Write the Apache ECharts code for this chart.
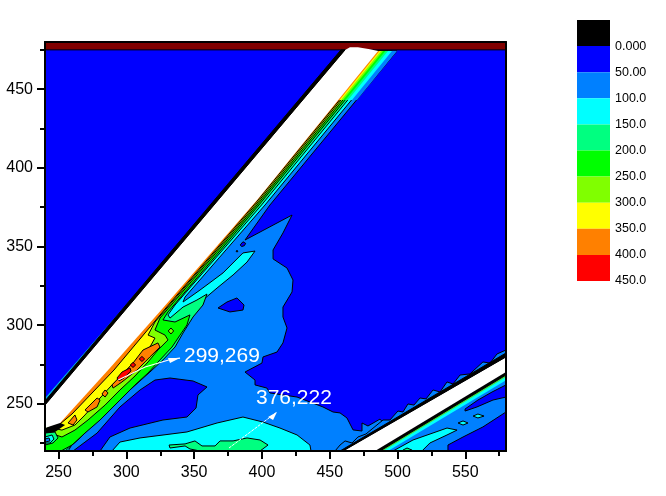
<!DOCTYPE html>
<html>
<head>
<meta charset="utf-8">
<title>contour</title>
<style>
    * { margin: 0; padding: 0; }
    body { background: #fff; }
    #main { width: 666px; height: 496px; }
</style>
<script src="https://cdn.jsdelivr.net/npm/echarts@6/dist/echarts.min.js"></script>
</head>
<body>
<div id="main"></div>
<script>
// axis ticks
const xTicks = [250, 300, 350, 400, 450, 500, 550];
const xMinor = [275, 325, 375, 425, 475, 525, 575];
const yTicks = [250, 300, 350, 400, 450];
const yMinor = [225, 275, 325, 375, 425, 475];

// colour scale
const levelLabels = ['0.000', '50.00', '100.0', '150.0', '200.0', '250.0', '300.0', '350.0', '400.0', '450.0'];
const levelValues = [0, 50, 100, 150, 200, 250, 300, 350, 400, 450];
const levelStarts = [-50, 0, 50, 100, 150, 200, 250, 300, 350, 400];
const levelColors = ['#000000', '#0000ff', '#0080ff', '#00ffff', '#00ff80', '#00ff00', '#80ff00', '#ffff00', '#ff8000', '#ff0000'];

// contours as [em, ex]
const frameAll = [[240,220],[580,220],[580,480],[240,480]];
const overRange = [[240,475],[580,475],[580,480],[240,480]];
const level50 = [[499.6,474.3],[405.9,376.4],[387.5,354.1],[422.2,370],[415.5,358.6],[408.2,347.8],[408.2,342.1],[418.5,336.3],[422.9,328.7],[422.2,321.1],[415.5,311.5],[415.5,305.2],[418.5,298.2],[415.5,288.7],[411.1,282.9],[400.8,279.8],[400,275.9],[387.5,270.2],[394.9,265.1],[394.9,262],[403.7,260],[405.9,256.9],[425.9,254.3],[445,248],[452.4,244.8],[457.6,244.2],[462.7,241],[467.2,233.4],[473.8,232.7],[473.8,237.8],[478.2,235.9],[487.1,240.3],[490.8,236.5],[459.8,220],[240,220],[240,249.2],[461.3,475]];
const level100 = [[495.9,474.3],[402.3,376.4],[343.3,317.9],[341.8,314.7],[354.3,322.3],[371.3,333.2],[386,345.9],[394.9,347.1],[389,340.1],[378.7,331.9],[366.9,323.6],[356.5,316],[345.5,302],[339.6,292.5],[332.2,284.2],[319.7,275.9],[306.4,266.4],[291.6,255.6],[276.9,242.9],[265.8,232.1],[257,220],[240,220],[240,249.2],[461.3,475]];
const level150 = [[493,474.3],[399.7,376.4],[335.9,312.8],[330.7,306.5],[332.2,304.5],[341.8,311.5],[352.1,316],[359.5,319.8],[356.5,312.8],[349.2,305.2],[341.8,295],[335.9,286.1],[327,277.9],[317.4,270.2],[302.7,258.8],[287.9,246.1],[273.2,234.6],[264.3,227],[254.8,220],[240,220],[240,249.2],[461.3,475]];
const level200 = [[491.1,474.3],[397.8,376.4],[330.7,308.4],[327,303.3],[335.9,302],[346.9,306.5],[344.7,300.1],[339.6,293.7],[333.7,286.1],[324.8,277.9],[316,269.6],[306.4,262],[295.3,252.4],[280.6,239.7],[269.5,231.4],[259.9,223.8],[251.8,220],[240,220],[240,249.2],[461.3,475]];
const level250 = [[489.3,474.3],[396.4,376.4],[324.8,304.5],[321.1,296.9],[328.5,293.7],[330.7,290.6],[323.3,284.2],[316,276.6],[306.4,267.7],[295.3,258.8],[284.3,249.2],[271.7,239.7],[262.1,233.3],[252.5,228.9],[243.7,231.4],[240,232.1],[240,249.2],[461.3,475]];
const level300 = [[487.8,474.3],[395.2,376.4],[321.1,302],[316,293.7],[321.1,291.8],[317.4,286.1],[310.1,279.1],[301.2,271.5],[289.4,262],[280.6,253.7],[269.5,242.9],[262.1,236.5],[252.5,233.3],[245.2,234.6],[251.1,239.7],[240,249.2],[461.3,475]];
const level350Edge = [[486.7,474.3],[394.1,376.4],[329.2,310.9],[290.9,271.5],[259.9,243.5],[251.1,237.2],[240,249.2],[461.3,475]];
const level350Main = [[289.4,262],[304.9,275.9],[312.3,284.2],[323.3,288.7],[324.8,286.1],[317.4,279.8],[307.9,271.5],[296.8,263.9],[290.2,260]];
const level350Low = [[269.5,246.1],[278.4,253.7],[280.6,252.4],[278.4,248],[271.7,244.8]];
const level350Tip = [[257,237.8],[262.1,242.9],[263.6,239.7],[260.7,236.5]];
const level350Isle = [[282,256.2],[284.3,258.8],[286.5,256.9],[284.3,254.3]];
const level400Main = [[293.1,266.4],[296.8,270.2],[302.7,272.8],[303.4,270.9],[298.3,266.4],[294.6,264.5]];
const level400Two = [[302.9,274.7],[304.9,276.3],[306.9,274.7],[304.9,273.1]];
const level400Three = [[309.5,278.5],[311.5,280.1],[313.5,278.5],[311.5,276.9]];
const limeIsle = [[330.9,296.3],[332.9,298.2],[334.9,296.3],[332.9,294.4]];

// the top of the ridge, where the levels run together without outlines
const ridge50 = [[499.6,474.3],[470.1,443.1],[455.4,443.1],[485.6,474.3]];
const ridge100 = [[495.9,474.3],[466.4,443.1],[455.4,443.1],[485.6,474.3]];
const ridge150 = [[493,474.3],[463.5,443.1],[455.4,443.1],[485.6,474.3]];
const ridge200 = [[491.1,474.3],[461.6,443.1],[455.4,443.1],[485.6,474.3]];
const ridge250 = [[489.3,474.3],[459.8,443.1],[455.4,443.1],[485.6,474.3]];
const ridge300 = [[487.8,474.3],[458.3,443.1],[455.4,443.1],[485.6,474.3]];
const ridge350 = [[486.7,474.3],[457.2,443.1],[455.4,443.1],[485.6,474.3]];

// holes in the 50 level
const blueBlob = [[260.7,220],[278.4,231.4],[295.3,248],[310.1,258.8],[321.1,265.1],[332.2,266.4],[349.2,264.5],[359.5,260.7],[352.8,255.6],[351.4,247.3],[344.7,241.6],[327,239.7],[302.7,234.6],[287.9,228.9],[280.6,220]];
const blueLens = [[367.6,310.9],[374.2,314.7],[381.6,317.3],[386.8,312.8],[386,309.6],[376.4,308.4]];
const blueDotOne = [[384,351],[386,353],[388,352],[387,350.5],[385,350]];
const blueDotTwo = [[381,347],[381.6,347.6],[382.2,347],[381.6,346.4]];

// bottom hump
const humpCyan = [[289.4,220],[295.3,225.7],[310.1,228.3],[344.7,232.1],[366.9,237.8],[386,241.6],[400.8,238.4],[413.3,234.6],[425.9,230.2],[435.4,223.8],[436.2,220]];
const humpGreen = [[331.5,223.8],[343.3,224.5],[350.6,226.4],[355.8,223.2],[365.4,223.2],[369.1,226.4],[378.7,226.4],[389,228.3],[398.6,227],[404.5,223.8],[398.6,220],[354.3,220],[346.9,221.3],[343.3,223.2],[332.2,221.9]];

// corner at the left edge
const cornerGreen = [[240,231.4],[247.4,232.1],[249.6,228.3],[245.9,225.1],[240,223.8]];
const cornerCyan = [[240,228.9],[245.2,230.2],[246.6,227.6],[243.7,225.1],[240,225.1]];
const cornerBlue = [[240,227.6],[243,228.3],[243.7,226.4],[240,225.7]];
const cornerBlack = [[240,234.6],[249.6,238.4],[254.8,236.5],[247.4,232.1],[240,231.4]];

// blanked upper band
const upperWhite = [[240,249.2],[461.3,474.9],[464.9,476.6],[470.8,476.6],[479.7,475.4],[485.6,474.3],[396.4,379.6],[327,310.9],[287.9,272.8],[251.1,237.8],[240,234.6]];
const upperBlack = [[240,249.2],[461.3,475],[458.3,475],[240,251.8]];
const upperTrace = [[240,251.8],[328.5,341.4],[240,253.7]];

// blanked lower band
const lowerBumps = [[453.9,220],[457.6,223.8],[461.3,226.4],[466.4,225.1],[470.8,228.9],[476.7,230.8],[481.2,234],[489.3,239.7],[494.4,239.7],[500.3,245.4],[504,244.8],[507.7,249.9],[512.1,249.2],[516.6,253.7],[521,253.1],[526.2,258.8],[531.3,257.5],[536.5,263.9],[540.9,262.6],[546.1,268.3],[553.4,269],[563,276.6],[568.2,275.9],[573.4,281.7],[580,284.2],[580,279.8],[459.8,220]];
const lowerBlackTop = [[457.6,220],[580,282.3],[580,279.8],[459.8,220]];
const lowerWhite = [[459.8,220],[580,279.8],[580,270.2],[483.4,220]];
const lowerBlackEnd = [[483.4,220],[580,270.2],[580,268.3],[487.1,220]];
const lowerGreen = [[484.1,220],[580,269.6],[580,267],[489.3,220]];
const lowerCyan = [[487.1,220],[580,267.7],[580,264.9],[493,220]];
const lowerLight = [[483.4,220],[580,270.2],[580,244.8],[563,235.3],[548.3,228.9],[537.2,223.8],[537.2,220]];
const lowerSlice = [[549.8,246.7],[559.3,252.4],[569.7,257.5],[580,262],[580,254.3],[570.4,252.4],[558.6,248],[549.8,245.4]];
const lowerTongue = [[496.7,220],[511.4,227],[536.5,234.6],[543.9,233.3],[536.5,230.2],[523.9,225.1],[518,220]];
const lowerSpot = [[504,220.6],[507,221.9],[510.7,220.6],[510.7,220],[504,220]];
const lowerIsleOne = [[555.7,242.2],[559.3,243.5],[563.8,242.2],[559.3,241]];
const lowerIsleTwo = [[544.6,237.8],[548.3,239.1],[552,237.8],[548.3,236.5]];

// annotations
const peakLabels = ['299,269', '376,222'];
const peakLabelAt = [[342.5, 280.4], [395.6, 253.7]];
const arrowOne = [[294,265.1],[313.8,273.4],[333.7,278.5],[339.6,279.1]];
const arrowOneHead = [[339.6,279.1],[330.7,279.1],[332.2,275.9]];
const arrowTwo = [[375.7,221.9],[411.1,244.8]];
const arrowTwoHead = [[411.1,244.8],[404.5,241.6],[408.2,239.7]];

// painted in this order, later ones on top
const regions = [
    {points: frameAll, color: '#0000ff', line: false},
    {points: overRange, color: '#800000', line: true},
    {points: level50, color: '#0080ff', line: true},
    {points: blueBlob, color: '#0000ff', line: true},
    {points: blueLens, color: '#0000ff', line: true},
    {points: blueDotOne, color: '#0000ff', line: true},
    {points: blueDotTwo, color: '#000000', line: true},
    {points: humpCyan, color: '#00ffff', line: true},
    {points: humpGreen, color: '#00ff80', line: true},
    {points: level100, color: '#00ffff', line: true},
    {points: level150, color: '#00ff80', line: true},
    {points: level200, color: '#00ff00', line: true},
    {points: level250, color: '#80ff00', line: true},
    {points: cornerGreen, color: '#00ff80', line: true},
    {points: cornerCyan, color: '#00ffff', line: true},
    {points: cornerBlue, color: '#0080ff', line: true},
    {points: limeIsle, color: '#80ff00', line: true},
    {points: level300, color: '#ffff00', line: true},
    {points: level350Edge, color: '#ff8000', line: true},
    {points: level350Main, color: '#ff8000', line: true},
    {points: level350Low, color: '#ff8000', line: true},
    {points: level350Tip, color: '#ff8000', line: true},
    {points: level350Isle, color: '#ff8000', line: true},
    {points: level400Main, color: '#ff0000', line: true},
    {points: level400Two, color: '#ff0000', line: true},
    {points: level400Three, color: '#ff0000', line: true},
    {points: ridge50, color: '#0080ff', line: false},
    {points: ridge100, color: '#00ffff', line: false},
    {points: ridge150, color: '#00ff80', line: false},
    {points: ridge200, color: '#00ff00', line: false},
    {points: ridge250, color: '#80ff00', line: false},
    {points: ridge300, color: '#ffff00', line: false},
    {points: ridge350, color: '#ff8000', line: false},
    {points: cornerBlack, color: '#000000', line: false},
    {points: upperWhite, color: '#ffffff', line: false},
    {points: upperTrace, color: '#00b0e0', line: false},
    {points: upperBlack, color: '#000000', line: true},
    {points: lowerLight, color: '#0080ff', line: true},
    {points: lowerSlice, color: '#0000ff', line: true},
    {points: lowerTongue, color: '#00ffff', line: true},
    {points: lowerSpot, color: '#00ff80', line: true},
    {points: lowerIsleOne, color: '#00ffff', line: true},
    {points: lowerIsleTwo, color: '#00ffff', line: true},
    {points: lowerCyan, color: '#00ffff', line: false},
    {points: lowerGreen, color: '#40e040', line: false},
    {points: lowerBlackEnd, color: '#000000', line: true},
    {points: lowerBumps, color: '#0080ff', line: true},
    {points: lowerWhite, color: '#ffffff', line: false},
    {points: lowerBlackTop, color: '#000000', line: true}
];

const font = '"Liberation Sans", Arial, sans-serif';
const myChart = echarts.init(document.getElementById('main'));

// axes that only carry a line or ticks, never labels
function plainAxis(position, min, max, extra) {
    return Object.assign({
        type: 'value', position: position, min: min, max: max, z: 10, gridIndex: 0,
        splitLine: {show: false},
        axisLabel: {show: false},
        axisTick: {show: false},
        axisLine: {show: true, onZero: false, lineStyle: {color: '#000', width: 2}}
    }, extra);
}

const option = {
    animation: false,
    backgroundColor: '#fff',
    grid: [
        {left: 45, top: 42, width: 461, height: 409},
        {left: 577, top: 20, width: 33, height: 261}
    ],
    xAxis: [
        plainAxis('bottom', 240, 580, {
            axisTick: {show: true, customValues: xTicks, length: 8, lineStyle: {color: '#000', width: 2}},
            axisLabel: {show: true, customValues: xTicks, margin: 14, color: '#000', fontSize: 16, fontFamily: font}
        }),
        plainAxis('bottom', 240, 580, {
            axisTick: {show: true, customValues: xMinor, length: 5, lineStyle: {color: '#000', width: 2}}
        }),
        plainAxis('top', 240, 580, {}),
        {type: 'value', gridIndex: 1, min: 0, max: 1, show: false}
    ],
    yAxis: [
        plainAxis('left', 220, 480, {
            axisTick: {show: true, customValues: yTicks, length: 8, lineStyle: {color: '#000', width: 2}},
            axisLabel: {show: true, customValues: yTicks, margin: 12, color: '#000', fontSize: 16, fontFamily: font}
        }),
        plainAxis('left', 220, 480, {
            axisTick: {show: true, customValues: yMinor, length: 5, lineStyle: {color: '#000', width: 2}}
        }),
        plainAxis('right', 220, 480, {}),
        {
            type: 'value', gridIndex: 1, position: 'right', min: -50, max: 450, inverse: true,
            splitLine: {show: false},
            axisLine: {show: false},
            axisTick: {show: false},
            axisLabel: {
                customValues: levelValues, margin: 5, color: '#000', fontSize: 12.5, fontFamily: font,
                padding: [4, 0, 0, 0],
                formatter: function (v) { return levelLabels[levelValues.indexOf(v)]; }
            }
        }
    ],
    series: [
        {
            // filled contours
            type: 'custom', xAxisIndex: 0, yAxisIndex: 0, clip: true, silent: true,
            data: regions.map(function (r, i) { return [i]; }),
            encode: {x: [], y: []},
            renderItem: function (params, api) {
                const r = regions[api.value(0)];
                return {
                    type: 'polygon',
                    shape: {points: r.points.map(function (p) { return api.coord(p); })},
                    style: {fill: r.color, stroke: r.line ? '#000' : null, lineWidth: 1}
                };
            }
        },
        {
            // arrows and peak labels
            type: 'custom', xAxisIndex: 0, yAxisIndex: 0, clip: false, silent: true, z: 5,
            data: [[0]],
            encode: {x: [], y: []},
            renderItem: function (params, api) {
                const toPx = function (p) { return api.coord(p); };
                const children = [
                    {type: 'polyline', shape: {points: arrowOne.map(toPx)}, style: {stroke: '#fff', fill: null, lineWidth: 1.2}},
                    {type: 'polygon', shape: {points: arrowOneHead.map(toPx)}, style: {fill: '#fff'}},
                    {type: 'polyline', shape: {points: arrowTwo.map(toPx)}, style: {stroke: '#fff', fill: null, lineWidth: 1, lineDash: [3, 1]}},
                    {type: 'polygon', shape: {points: arrowTwoHead.map(toPx)}, style: {fill: '#fff'}}
                ];
                peakLabels.forEach(function (t, i) {
                    const at = api.coord(peakLabelAt[i]);
                    children.push({
                        type: 'text',
                        style: {text: t, x: at[0], y: at[1], fill: '#fff', font: '21px ' + font, verticalAlign: 'middle', align: 'left'}
                    });
                });
                return {type: 'group', children: children};
            }
        },
        {
            // colour scale blocks
            type: 'custom', xAxisIndex: 3, yAxisIndex: 3, silent: true,
            data: levelStarts.map(function (v, i) { return [i, v]; }),
            encode: {x: [], y: []},
            renderItem: function (params, api) {
                const i = api.value(0);
                const a = api.coord([0, api.value(1)]);
                const b = api.coord([1, api.value(1) + 50]);
                return {
                    type: 'rect',
                    shape: {x: a[0], y: a[1], width: b[0] - a[0], height: b[1] - a[1]},
                    style: {fill: levelColors[i]}
                };
            }
        }
    ]
};
myChart.setOption(option);
</script>
</body>
</html>
